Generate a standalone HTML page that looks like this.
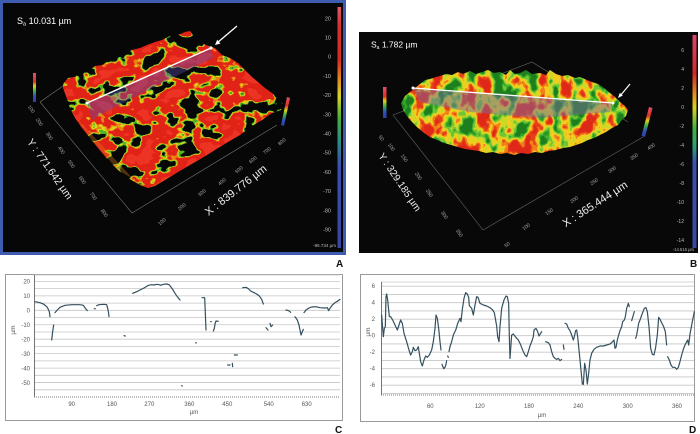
<!DOCTYPE html>
<html><head><meta charset="utf-8"><style>
html,body{margin:0;padding:0;background:#fff;width:700px;height:434px;overflow:hidden}
svg{display:block}
text{font-family:"Liberation Sans",Arial,sans-serif}
</style></head><body>
<svg width="700" height="434" viewBox="0 0 700 434" xmlns="http://www.w3.org/2000/svg">
<defs>
 <linearGradient id="cbA" x1="0" y1="0" x2="0" y2="1">
  <stop offset="0" stop-color="#e05868"/>
  <stop offset="0.08" stop-color="#d83030"/>
  <stop offset="0.22" stop-color="#d82a20"/>
  <stop offset="0.30" stop-color="#e08a20"/>
  <stop offset="0.37" stop-color="#d8d428"/>
  <stop offset="0.46" stop-color="#48b038"/>
  <stop offset="0.56" stop-color="#2a8c88"/>
  <stop offset="0.66" stop-color="#3c4eb0"/>
  <stop offset="1" stop-color="#3a46a0"/>
 </linearGradient>
 <linearGradient id="cbB" x1="0" y1="0" x2="0" y2="1">
  <stop offset="0" stop-color="#d84868"/>
  <stop offset="0.18" stop-color="#d02828"/>
  <stop offset="0.28" stop-color="#e09020"/>
  <stop offset="0.34" stop-color="#d8d020"/>
  <stop offset="0.44" stop-color="#40b040"/>
  <stop offset="0.52" stop-color="#30a070"/>
  <stop offset="0.60" stop-color="#3a50b0"/>
  <stop offset="1" stop-color="#3848a0"/>
 </linearGradient>
 <linearGradient id="post" x1="0" y1="0" x2="0" y2="1">
  <stop offset="0" stop-color="#e05070"/><stop offset="0.3" stop-color="#e03020"/>
  <stop offset="0.45" stop-color="#e0d020"/><stop offset="0.62" stop-color="#40b040"/>
  <stop offset="0.8" stop-color="#3050c0"/><stop offset="1" stop-color="#3040a0"/>
 </linearGradient>
 <filter id="texA" x="0" y="0" width="1" height="1" color-interpolation-filters="sRGB">
  <feTurbulence type="fractalNoise" baseFrequency="0.045 0.06" numOctaves="3" seed="11"/>
  <feColorMatrix type="matrix" values="1 0 0 0 0  1 0 0 0 0  1 0 0 0 0  0 0 0 0 1"/>
  <feComponentTransfer>
   <feFuncR type="discrete" tableValues="0.03 0.03 0.03 0.03 0.03 0.03 0.03 0.03 0.03 0.03 0.03 0.03 0.03 0.03 0.03 0.03 0.3 0.85 0.92 0.88 0.88 0.88 0.88 0.88 0.88 0.88 0.93 0.93 0.93 0.93 0.93 0.93 0.93 0.93 0.93 0.93 0.93 0.93 0.93 0.93"/>
   <feFuncG type="discrete" tableValues="0.03 0.03 0.03 0.03 0.03 0.03 0.03 0.03 0.03 0.03 0.03 0.03 0.03 0.03 0.03 0.03 0.7 0.85 0.5 0.14 0.14 0.14 0.14 0.14 0.14 0.14 0.2 0.2 0.2 0.2 0.2 0.2 0.2 0.2 0.2 0.2 0.2 0.2 0.2 0.2"/>
   <feFuncB type="discrete" tableValues="0.03 0.03 0.03 0.03 0.03 0.03 0.03 0.03 0.03 0.03 0.03 0.03 0.03 0.03 0.03 0.03 0.15 0.1 0.08 0.09 0.09 0.09 0.09 0.09 0.09 0.09 0.14 0.14 0.14 0.14 0.14 0.14 0.14 0.14 0.14 0.14 0.14 0.14 0.14 0.14"/>
  </feComponentTransfer>
 </filter>
 <filter id="texB" x="0" y="0" width="1" height="1" color-interpolation-filters="sRGB">
  <feTurbulence type="fractalNoise" baseFrequency="0.065 0.05" numOctaves="3" seed="4"/>
  <feColorMatrix type="matrix" values="1 0 0 0 0  1 0 0 0 0  1 0 0 0 0  0 0 0 0 1"/>
  <feComponentTransfer>
   <feFuncR type="discrete" tableValues="0.12 0.12 0.12 0.12 0.12 0.12 0.12 0.2 0.45 0.8 0.95 0.95 0.9 0.88 0.88 0.88 0.88 0.88 0.88 0.88"/>
   <feFuncG type="discrete" tableValues="0.5 0.5 0.5 0.5 0.5 0.5 0.5 0.65 0.78 0.85 0.8 0.5 0.25 0.16 0.16 0.16 0.16 0.16 0.16 0.16"/>
   <feFuncB type="discrete" tableValues="0.12 0.12 0.12 0.12 0.12 0.12 0.12 0.15 0.2 0.15 0.12 0.1 0.1 0.1 0.1 0.1 0.1 0.1 0.1 0.1"/>
  </feComponentTransfer>
 </filter>
 <clipPath id="clipA"><polygon points="63,84 68,78 75,77 80,73 88,72 95,66 102,65 110,60 118,56 125,54 132,50 140,48 147,45 155,42 162,40 170,36 178,35 185,32 190,31 195,38 200,42 208,46 215,48 222,55 230,58 238,63 245,70 252,77 258,82 265,88 272,93 278,98 283,104 281,110 272,113 262,120 252,126 240,135 228,142 215,150 202,158 190,165 178,172 165,180 155,186 148,188 140,185 128,178 118,170 108,160 98,148 90,138 82,128 75,118 70,108 66,96 63,88"/></clipPath>
 <clipPath id="clipB"><polygon points="401,103 405,96 410,92 415,88 420,84 425,80 430,79 436,77 440,76 446,74 452,75 458,72 463,74 470,71 476,74 482,72 488,70 494,73 500,72 506,75 510,70 515,74 520,73 526,70 532,74 540,73 546,75 550,70 556,74 562,76 568,75 575,78 580,77 587,80 592,82 598,84 604,88 610,93 615,97 620,102 625,106 628,110 626,116 622,120 618,125 612,128 606,132 600,135 594,138 588,140 582,143 576,145 570,147 563,148 556,150 549,151 542,153 535,152 528,154 521,153 514,155 507,153 500,154 493,152 486,153 479,151 472,150 465,149 458,147 451,145 444,143 437,140 430,137 424,133 418,128 412,122 407,116 403,110"/></clipPath>
</defs>

<!-- ================= PANEL A ================= -->
<rect x="1.5" y="1.5" width="343" height="252" fill="#070707" stroke="#3f5db0" stroke-width="3"/>
<text x="17" y="24" font-size="9" fill="#fff">S<tspan font-size="5.5" dy="1.5">a</tspan><tspan dy="-1.5"> 10.031 µm</tspan></text>
<g stroke="#777" stroke-width="0.6" fill="none">
 <polyline points="40,102 132,213 277,125"/>
 <line x1="40" y1="102" x2="63" y2="86"/>
</g>
<g clip-path="url(#clipA)">
 <rect x="60" y="28" width="228" height="165" filter="url(#texA)"/>
 <polygon points="63,88 70,108 90,138 118,170 148,188 178,172 228,142 281,110 283,118 148,195 60,100" fill="#e08020" opacity="0.35"/>
</g>
<polygon points="87,103 211,48 213,58 160,84 100,115 92,120" fill="#5a4cb0" opacity="0.4"/>
<line x1="87" y1="103" x2="211" y2="48" stroke="#fff" stroke-width="1.5"/>
<circle cx="87" cy="103" r="1.6" fill="#fff"/><circle cx="211" cy="48" r="1.6" fill="#fff"/>
<line x1="237" y1="26" x2="217" y2="43" stroke="#fff" stroke-width="1.3"/>
<polygon points="215,45 220.4,43.6 217.2,39.8" fill="#fff"/>
<rect x="33" y="73" width="3" height="29" fill="url(#post)"/>
<polygon points="287,97 290,98 284,126 281,125" fill="url(#post)"/>
<g font-size="5" fill="#aaa" text-anchor="middle">
 <text transform="translate(30,110) rotate(55)">100</text>
 <text transform="translate(38,123) rotate(55)">200</text>
 <text transform="translate(48,137) rotate(55)">300</text>
 <text transform="translate(60,151) rotate(55)">400</text>
 <text transform="translate(70,165) rotate(55)">500</text>
 <text transform="translate(81,181) rotate(55)">600</text>
 <text transform="translate(92,197) rotate(55)">700</text>
 <text transform="translate(103,214) rotate(55)">800</text>
 <text transform="translate(163,223) rotate(-40)">100</text>
 <text transform="translate(183,208) rotate(-40)">200</text>
 <text transform="translate(203,194) rotate(-40)">300</text>
 <text transform="translate(223,183) rotate(-40)">400</text>
 <text transform="translate(240,171) rotate(-40)">500</text>
 <text transform="translate(254,161) rotate(-40)">600</text>
 <text transform="translate(268,152) rotate(-40)">700</text>
 <text transform="translate(283,143) rotate(-40)">800</text>
</g>
<text transform="translate(47,171) rotate(55)" font-size="10.5" fill="#eee" text-anchor="middle">Y : 771.642 µm</text>
<text transform="translate(238,193) rotate(-38)" font-size="11" fill="#eee" text-anchor="middle">X : 839.776 µm</text>
<rect x="337.5" y="7" width="3.5" height="241" fill="url(#cbA)"/>
<g font-size="5.5" fill="#bbb" text-anchor="end">
 <text x="331" y="20.3">20</text><text x="331" y="39.5">10</text><text x="331" y="58.7">0</text>
 <text x="331" y="77.9">-10</text><text x="331" y="97.1">-20</text><text x="331" y="116.3">-30</text>
 <text x="331" y="135.5">-40</text><text x="331" y="154.7">-50</text><text x="331" y="173.9">-60</text>
 <text x="331" y="193.1">-70</text><text x="331" y="212.3">-80</text><text x="331" y="231.5">-90</text>
 <text x="336" y="247" font-size="4.5">-96.734 µm</text>
</g>
<text x="336" y="267" font-size="10" font-weight="bold" fill="#111">A</text>

<!-- ================= PANEL B ================= -->
<rect x="359" y="32" width="339" height="221" fill="#080808"/>
<text x="371" y="47.5" font-size="8.5" fill="#fff">S<tspan font-size="5" dy="1.5">a</tspan><tspan dy="-1.5"> 1.782 µm</tspan></text>
<g stroke="#666" stroke-width="0.6" fill="none">
 <polyline points="393,115 483,230 643,137"/>
 <polyline points="393,115 532,62 628,122"/>
</g>
<g clip-path="url(#clipB)">
 <rect x="398" y="66" width="234" height="92" filter="url(#texB)"/>
</g>
<polygon points="413,88 613,103 610,112 540,118 470,112 420,102" fill="#7a6a9a" opacity="0.5"/>
<line x1="413" y1="88" x2="613" y2="103" stroke="#fff" stroke-width="1.3"/>
<circle cx="413" cy="88" r="1.5" fill="#fff"/><circle cx="613" cy="103" r="1.5" fill="#fff"/>
<line x1="630" y1="84" x2="620" y2="96" stroke="#fff" stroke-width="1.2"/>
<polygon points="618,98 622.8,95.5 619.8,92.9" fill="#fff"/>
<rect x="383" y="87" width="3.5" height="31" fill="url(#post)"/>
<polygon points="649,107 652.5,108 645,137 641.5,136" fill="url(#post)"/>
<g font-size="5" fill="#aaa" text-anchor="middle">
 <text transform="translate(380,139) rotate(55)">50</text>
 <text transform="translate(390,148) rotate(55)">100</text>
 <text transform="translate(403,159) rotate(55)">150</text>
 <text transform="translate(417,177) rotate(55)">200</text>
 <text transform="translate(428,194) rotate(55)">250</text>
 <text transform="translate(443,216) rotate(55)">300</text>
 <text transform="translate(458,234) rotate(55)">350</text>
 <text transform="translate(508,246) rotate(-35)">50</text>
 <text transform="translate(527,228) rotate(-35)">100</text>
 <text transform="translate(550,213) rotate(-35)">150</text>
 <text transform="translate(575,201) rotate(-35)">200</text>
 <text transform="translate(595,183) rotate(-35)">250</text>
 <text transform="translate(613,171) rotate(-35)">300</text>
 <text transform="translate(635,158) rotate(-35)">350</text>
 <text transform="translate(652,148) rotate(-35)">400</text>
</g>
<text transform="translate(397,184) rotate(56)" font-size="10" fill="#eee" text-anchor="middle">Y : 329.185 µm</text>
<text transform="translate(597,207) rotate(-33)" font-size="11" fill="#eee" text-anchor="middle">X : 365.444 µm</text>
<rect x="692.5" y="35" width="4" height="213" fill="url(#cbB)"/>
<g font-size="5" fill="#bbb" text-anchor="end">
 <text x="684" y="52">6</text><text x="684" y="71">4</text><text x="684" y="90">2</text>
 <text x="684" y="109">0</text><text x="684" y="128">-2</text><text x="684" y="147">-4</text>
 <text x="684" y="166">-6</text><text x="684" y="185">-8</text><text x="684" y="204">-10</text>
 <text x="684" y="223">-12</text><text x="684" y="242">-14</text>
 <text x="694" y="251" font-size="4.2">-14.516 µm</text>
</g>
<text x="690" y="267" font-size="10" font-weight="bold" fill="#111">B</text>

<!-- ================= PANEL C ================= -->
<rect x="5.5" y="274.5" width="337" height="146" fill="#fff" stroke="#9a9a9a" stroke-width="1"/>
<g stroke="#c6c6c6" stroke-width="0.8">
 <line x1="34" x2="340" y1="275" y2="275"/>
 <line x1="34" x2="340" y1="281.4" y2="281.4"/><line x1="34" x2="340" y1="288.6" y2="288.6"/>
 <line x1="34" x2="340" y1="295.85" y2="295.85"/><line x1="34" x2="340" y1="303.1" y2="303.1"/>
 <line x1="34" x2="340" y1="310.3" y2="310.3"/><line x1="34" x2="340" y1="317.5" y2="317.5"/>
 <line x1="34" x2="340" y1="324.75" y2="324.75"/><line x1="34" x2="340" y1="332" y2="332"/>
 <line x1="34" x2="340" y1="339.2" y2="339.2"/><line x1="34" x2="340" y1="346.4" y2="346.4"/>
 <line x1="34" x2="340" y1="353.65" y2="353.65"/><line x1="34" x2="340" y1="360.9" y2="360.9"/>
 <line x1="34" x2="340" y1="368.1" y2="368.1"/><line x1="34" x2="340" y1="375.3" y2="375.3"/>
 <line x1="34" x2="340" y1="382.55" y2="382.55"/><line x1="34" x2="340" y1="389.8" y2="389.8"/>
</g>
<line x1="34.5" y1="275" x2="34.5" y2="397" stroke="#666" stroke-width="0.9"/>
<line x1="34" y1="397" x2="340" y2="397" stroke="#777" stroke-width="1" stroke-dasharray="1 1"/>
<g font-size="6" fill="#555" text-anchor="end">
 <text x="30" y="283.5">20</text><text x="30" y="298">10</text><text x="30" y="312.5">0</text>
 <text x="30" y="327">-10</text><text x="30" y="341.3">-20</text><text x="30" y="356">-30</text>
 <text x="30" y="370.3">-40</text><text x="30" y="385">-50</text>
</g>
<g font-size="6" fill="#555" text-anchor="middle">
 <text x="71.7" y="406">90</text><text x="112" y="406">180</text><text x="149.3" y="406">270</text>
 <text x="189.3" y="406">360</text><text x="227.3" y="406">450</text><text x="268.7" y="406">540</text>
 <text x="306.7" y="406">630</text>
 <text x="194" y="414">µm</text>
</g>
<text transform="translate(15,330) rotate(-90)" font-size="6.5" fill="#555" text-anchor="middle">µm</text>
<g transform="translate(0,260) scale(0.33333)" fill="none" stroke="#34505e" stroke-width="3.6" stroke-linejoin="round" stroke-linecap="round">
 <polyline points="105,125 120,128 132,133 142,142 148,155 150,170"/>
 <polyline points="161,195 158,215 155,240"/>
 <polyline points="165,158 172,150 180,142 195,136 215,134 240,134 250,136 256,145 262,152"/>
 <polyline points="283,146 286,146"/>
 <polyline points="290,137 297,134 312,133 320,134 323,145 326,160 327,170"/>
 <polyline points="372,227 376,228"/>
 <polyline points="398,100 410,95 420,90 432,84 445,76 455,74 462,75 470,73 478,74 482,76 490,73 500,72 507,74 512,80 518,88 525,100 532,110 540,120"/>
 <polyline points="545,377 547,378"/>
 <polyline points="587,248 589,249"/>
 <polyline points="606,113 614,113 616,160 618,210"/>
 <polyline points="632,185 634,185"/>
 <polyline points="640,213 643,205 645,192 648,183 655,184"/>
 <polyline points="703,285 712,285"/>
 <polyline points="683,315 690,315"/>
 <polyline points="697,310 698,320"/>
 <polyline points="728,83 738,82 745,86 752,93 760,97 770,102 778,108 785,118 790,132"/>
 <polyline points="798,203 804,210"/>
 <polyline points="810,190 813,200 818,195"/>
 <polyline points="858,150 866,152 872,157"/>
 <polyline points="885,170 892,180 897,195 900,210 903,225 907,215 910,208"/>
 <polyline points="912,158 918,150 925,145 935,141 948,140 960,143 975,144 982,143 986,152 990,145 997,135 1005,128 1012,124 1020,118"/>
</g>
<text x="335" y="433" font-size="10" font-weight="bold" fill="#111">C</text>

<!-- ================= PANEL D ================= -->
<rect x="360.5" y="274.5" width="334" height="147" fill="#fff" stroke="#9a9a9a" stroke-width="1"/>
<g stroke="#c6c6c6" stroke-width="0.8">
 <line x1="381" x2="694" y1="282" y2="282"/>
 <line x1="381" x2="694" y1="286.2" y2="286.2"/><line x1="381" x2="694" y1="294.45" y2="294.45"/>
 <line x1="381" x2="694" y1="302.7" y2="302.7"/><line x1="381" x2="694" y1="310.95" y2="310.95"/>
 <line x1="381" x2="694" y1="319.2" y2="319.2"/><line x1="381" x2="694" y1="327.45" y2="327.45"/>
 <line x1="381" x2="694" y1="335.7" y2="335.7"/><line x1="381" x2="694" y1="343.95" y2="343.95"/>
 <line x1="381" x2="694" y1="352.2" y2="352.2"/><line x1="381" x2="694" y1="360.45" y2="360.45"/>
 <line x1="381" x2="694" y1="368.7" y2="368.7"/><line x1="381" x2="694" y1="376.95" y2="376.95"/>
 <line x1="381" x2="694" y1="385.2" y2="385.2"/><line x1="381" x2="694" y1="393.45" y2="393.45"/>
</g>
<line x1="381.5" y1="282" x2="381.5" y2="395" stroke="#666" stroke-width="0.9"/>
<line x1="381" y1="395" x2="694" y2="395" stroke="#777" stroke-width="1" stroke-dasharray="1 1"/>
<g font-size="6" fill="#555" text-anchor="end">
 <text x="375" y="288">6</text><text x="375" y="304.5">4</text><text x="375" y="321.2">2</text>
 <text x="375" y="337.7">0</text><text x="375" y="354.2">-2</text><text x="375" y="370.7">-4</text>
 <text x="375" y="387.2">-6</text>
</g>
<g font-size="6" fill="#555" text-anchor="middle">
 <text x="430.3" y="408">60</text><text x="479.7" y="408">120</text><text x="529" y="408">180</text>
 <text x="578.3" y="408">240</text><text x="627.7" y="408">300</text><text x="677" y="408">360</text>
 <text x="542" y="417">µm</text>
</g>
<text transform="translate(370,332) rotate(-90)" font-size="6.5" fill="#555" text-anchor="middle">µm</text>
<g transform="translate(350,270) scale(0.33333)" fill="none" stroke="#34505e" stroke-width="3.6" stroke-linejoin="round" stroke-linecap="round">
 <polyline points="95,135 98,175 100,200 103,175 106,170 108,80 110,72 113,90 118,140 122,140 128,150 135,165 142,180 147,165 152,150 157,160 162,190 170,215 177,240 182,255 187,245 190,232 195,242 200,240 205,230 208,250 212,275 217,288 222,270 227,258 232,262 238,255 245,240 250,215 255,175 258,135 262,145 266,175 270,215 273,240"/>
 <polyline points="276,283 281,296 285,292 288,283 290,272"/>
 <polyline points="293,258 295,262"/>
 <polyline points="297,245 300,230 305,215 310,195 318,178 323,160 330,145 333,155 337,118 342,85 347,68 352,72 356,82 358,107 365,115 370,135 375,105 380,80 384,82 390,100 400,105 410,108 420,113 428,120 433,128 440,168 443,200 447,215 450,170 455,115 462,90 468,78 472,80 476,100 478,200 480,265"/>
</g>
<g transform="translate(350,260) scale(0.33333)" fill="none" stroke="#34505e" stroke-width="3.6" stroke-linejoin="round" stroke-linecap="round">
 <polyline points="480,295 485,225 490,222 500,235 505,240 510,250 520,275 525,285 530,290 535,275 540,258 545,245 550,230 552,210 558,205 563,215 567,228 572,220 575,215"/>
 <polyline points="587,245 595,248 600,255 605,275 610,290 615,295 620,298 625,295 630,302 635,298"/>
 <polyline points="640,255 642,268"/>
 <polyline points="645,190 650,192 655,205 660,212 665,225 670,240 673,230 677,212 680,210 683,230 690,300 697,372 700,373 704,310 708,330 712,372 716,340 720,300 725,280 732,268 740,262 750,258 760,258 770,255 780,252 788,245 792,240 795,265 798,262 802,240 806,225 810,212 815,200 818,185 823,180 826,170 830,145 835,130 838,140"/>
 <polyline points="845,182 850,165 853,155"/>
 <polyline points="857,235 860,225 866,190 870,180 877,160 883,145 888,143 892,155 897,200 902,265 907,283 912,285 917,262 922,225 926,172 930,178 936,190 941,200 946,215 950,255"/>
 <polyline points="953,290 958,300 963,315 968,322 975,322 980,328 985,322 990,305 995,285 1000,268 1005,255 1010,245 1013,240 1016,255 1020,222 1026,190 1033,155"/>
</g>
<text x="689" y="433" font-size="10" font-weight="bold" fill="#111">D</text>
</svg>
</body></html>
